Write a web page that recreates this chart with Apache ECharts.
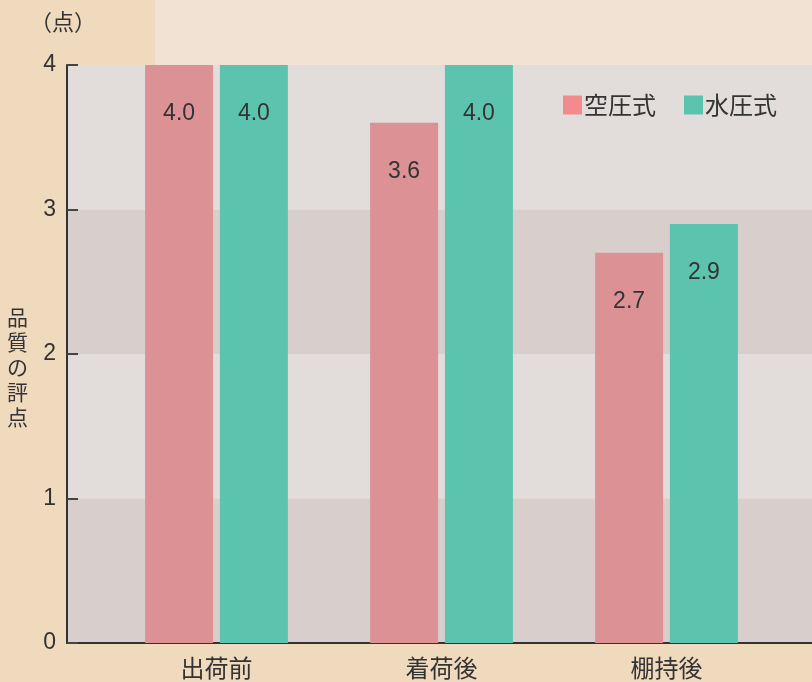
<!DOCTYPE html>
<html>
<head>
<meta charset="utf-8">
<script src="https://cdn.jsdelivr.net/npm/echarts@6/dist/echarts.min.js"></script>
<style>
  html, body { margin: 0; padding: 0; background: #f0dabe; }
  #chart { width: 812px; height: 682px; }
</style>
</head>
<body>
<div id="chart"></div>
<script>
// 品質の評点
const categories = ['出荷前', '着荷後', '棚持後']
const airValues = [4.0, 3.6, 2.7]
const waterValues = [4.0, 4.0, 2.9]
const seriesNames = ['空圧式', '水圧式']

const font = '"Noto Sans CJK JP", "Noto Sans", sans-serif'
const numFont = '"Liberation Sans", Arial, sans-serif'
const myChart = echarts.init(document.getElementById('chart'))

const valueLabel = {
  show: true,
  position: 'insideTop',
  distance: 37,
  color: '#333',
  fontSize: 23,
  fontFamily: numFont,
  formatter: p => p.value.toFixed(1)
}

const option = {
  backgroundColor: '#f0dabe',
  animation: false,
  graphic: [
    {
      type: 'rect',
      z: -10,
      shape: { x: 155, y: 0, width: 657, height: 65 },
      style: { fill: '#f1e2d4' }
    },
    {
      type: 'text',
      left: 30,
      top: 11,
      style: { text: '（点）', fontSize: 22, fontFamily: font, fill: '#333' }
    },
    {
      type: 'text',
      left: 7,
      top: 305,
      style: {
        text: '品\n質\nの\n評\n点',
        fontSize: 21,
        lineHeight: 25,
        fontFamily: font,
        fill: '#333'
      }
    }
  ],
  legend: {
    top: 88,
    right: 30,
    itemWidth: 19,
    itemHeight: 19,
    itemGap: 28,
    textStyle: { fontSize: 24, fontFamily: font, color: '#333', padding: [0, 0, 0, -3] },
    data: [
      { name: seriesNames[0], icon: 'rect', itemStyle: { color: '#f28a8e' } },
      { name: seriesNames[1], icon: 'rect', itemStyle: { color: '#5cc4ae' } }
    ]
  },
  grid: [
    { left: 67, right: 0, top: 65, bottom: 39 },
    { left: 104, right: 33, top: 65, bottom: 39 }
  ],
  xAxis: [
    {
      gridIndex: 0,
      type: 'value',
      min: 0,
      max: 1,
      axisLine: { show: true, onZero: false, lineStyle: { color: '#333', width: 2 } },
      axisTick: { show: false },
      axisLabel: { show: false },
      splitLine: { show: false }
    },
    {
      gridIndex: 1,
      type: 'category',
      data: categories,
      axisLine: { show: false },
      axisTick: { show: false },
      axisLabel: { color: '#333', fontSize: 24, fontFamily: font, margin: 13 }
    }
  ],
  yAxis: [
    {
      gridIndex: 0,
      type: 'value',
      min: 0,
      max: 4,
      interval: 1,
      axisLine: { show: true, lineStyle: { color: '#333', width: 2 } },
      axisTick: { show: true, inside: true, length: 11, lineStyle: { color: '#444', width: 2 } },
      axisLabel: { color: '#333', fontSize: 23, fontFamily: numFont, margin: 11 },
      splitLine: { show: false },
      splitArea: { show: true, areaStyle: { color: ['#d8cfcc', '#e2ddda'] } }
    },
    {
      gridIndex: 1,
      type: 'value',
      min: 0,
      max: 4,
      interval: 1,
      show: false
    }
  ],
  series: [
    {
      name: seriesNames[0],
      type: 'bar',
      xAxisIndex: 1,
      yAxisIndex: 1,
      data: airValues,
      barWidth: 68,
      barGap: '10%',
      itemStyle: { color: '#dc9294' },
      label: valueLabel
    },
    {
      name: seriesNames[1],
      type: 'bar',
      xAxisIndex: 1,
      yAxisIndex: 1,
      data: waterValues,
      barWidth: 68,
      itemStyle: { color: '#5cc4ae' },
      label: valueLabel
    }
  ]
}
option && myChart.setOption(option)
</script>
</body>
</html>
